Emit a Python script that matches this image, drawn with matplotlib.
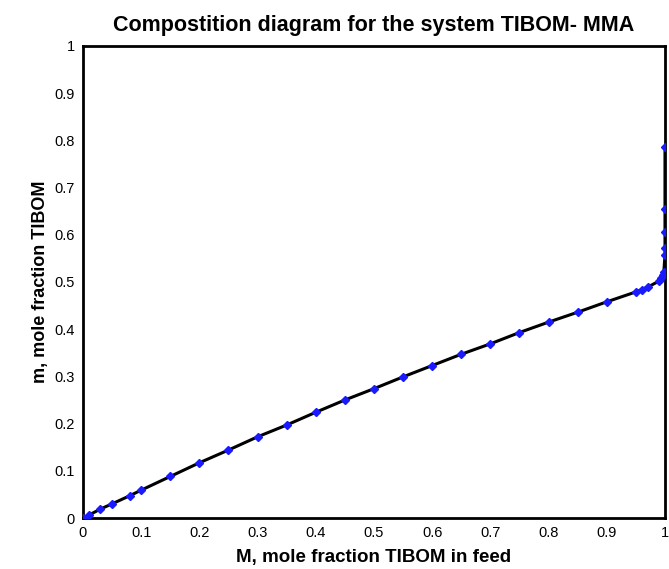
import matplotlib
matplotlib.use('Agg')
import matplotlib.pyplot as plt

# feed fraction M and copolymer fraction m
feed_M = [0.0, 0.01, 0.03, 0.05, 0.08, 0.10, 0.15, 0.20, 0.25, 0.30,
          0.35, 0.40, 0.45, 0.50, 0.55, 0.60, 0.65, 0.70, 0.75, 0.80,
          0.85, 0.90, 0.95, 0.96, 0.97, 0.99, 0.993, 0.996, 0.998,
          1.0, 1.0, 1.0, 1.0, 1.0]
poly_m = [0.0, 0.006, 0.019, 0.030, 0.047, 0.059, 0.088, 0.117, 0.144, 0.172,
          0.197, 0.224, 0.250, 0.274, 0.299, 0.323, 0.347, 0.369, 0.393, 0.415,
          0.436, 0.458, 0.479, 0.484, 0.489, 0.502, 0.509, 0.515, 0.521,
          0.557, 0.571, 0.605, 0.655, 0.787]

xticks = [0, 0.1, 0.2, 0.3, 0.4, 0.5, 0.6, 0.7, 0.8, 0.9, 1]
tick_labels = ['0', '0.1', '0.2', '0.3', '0.4', '0.5', '0.6', '0.7', '0.8', '0.9', '1']

plt.rcParams['font.family'] = ['Liberation Sans', 'DejaVu Sans']

fig = plt.figure(figsize=(6.69, 5.69), dpi=100)
ax = fig.add_axes([0.124, 0.0896, 0.870, 0.8296])

ax.plot(feed_M, poly_m, color='black', linewidth=2.2, zorder=2)
ax.plot(feed_M, poly_m, linestyle='none', marker='D', markersize=4.5,
        markerfacecolor='#1a1aff', markeredgecolor='#1a1aff', zorder=3)

ax.set_xlim(0, 1)
ax.set_ylim(0, 1)
ax.set_xticks(xticks)
ax.set_xticklabels(tick_labels)
ax.set_yticks(xticks)
ax.set_yticklabels(tick_labels)
ax.tick_params(length=0, labelsize=10.5, pad=6)
for s in ax.spines.values():
    s.set_linewidth(2)
    s.set_color('black')

ax.set_title('Compostition diagram for the system TIBOM- MMA',
             fontsize=15.5, fontweight='bold', pad=11)
ax.set_xlabel('M, mole fraction TIBOM in feed', fontsize=13.5, fontweight='bold', labelpad=6)
ax.set_ylabel('m, mole fraction TIBOM', fontsize=13, fontweight='bold', labelpad=4)

plt.savefig('out.png', dpi=100)
plt.close()
